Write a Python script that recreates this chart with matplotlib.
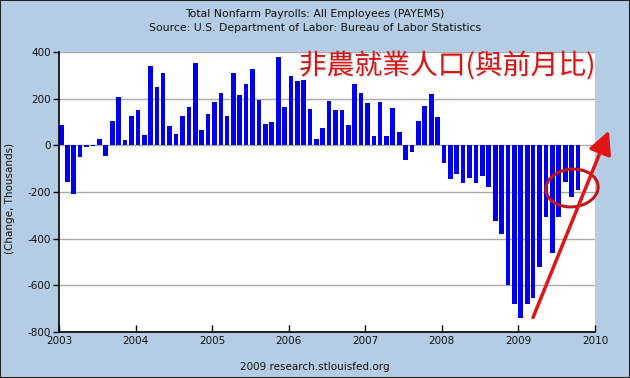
import matplotlib
matplotlib.use("Agg")
import matplotlib.pyplot as plt
import matplotlib.dates as mdates
import matplotlib.patheffects as pe
from matplotlib.patches import Ellipse, Rectangle, FancyArrowPatch
import pandas as pd

# monthly change in nonfarm payrolls, thousands (Jan 2003 - Oct 2009)
changes = [87, -159, -210, -48, -6, -2, 27, -44, 103, 206, 23, 125,
           150, 44, 339, 252, 312, 82, 48, 125, 163, 354, 65, 133,
           186, 223, 125, 312, 214, 262, 325, 193, 91, 101, 380, 163,
           296, 274, 282, 155, 27, 74, 189, 150, 150, 87, 262, 223,
           180, 40, 184, 40, 159, 57, -65, -27, 103, 167, 220, 120,
           -76, -143, -121, -161, -140, -161, -131, -178, -323, -382, -599, -681,
           -742, -681, -653, -520, -306, -463, -306, -157, -221, -192]
months = pd.date_range("2003-01-01", periods=len(changes), freq="MS")
year_ticks = list(range(2003, 2011))
y_ticks = [400, 200, 0, -200, -400, -600, -800]

title = "Total Nonfarm Payrolls: All Employees (PAYEMS)\nSource: U.S. Department of Labor: Bureau of Labor Statistics"
y_label = "(Change, Thousands)"
footer = "2009 research.stlouisfed.org"
note = "非農就業人口(與前月比)"

bg = "#B4CDE4"
plt.rcParams["font.family"] = ["DejaVu Sans"]
plt.rcParams["font.size"] = 7.5
plt.rcParams["text.color"] = "#111111"

fig = plt.figure(figsize=(6.3, 3.78), dpi=100, facecolor=bg)
ax = fig.add_axes([59 / 630, 1 - 332 / 378, 536 / 630, 280 / 378])
ax.set_facecolor("white")

ax.bar(months, changes, width=22, align="edge", color="#0000EE", zorder=3)

ax.set_ylim(-800, 400)
ax.set_yticks(y_ticks)
ax.set_yticklabels([str(v) for v in y_ticks])
ax.yaxis.grid(True, color="#AAAAAA", linewidth=1, zorder=1)
ax.set_xlim(mdates.date2num(pd.Timestamp("2003-01-01")), mdates.date2num(pd.Timestamp("2010-01-01")))
ax.set_xticks([mdates.date2num(pd.Timestamp(f"{y}-01-01")) for y in year_ticks])
ax.set_xticklabels([str(y) for y in year_ticks])
ax.tick_params(axis="x", direction="in", length=5, width=1, pad=3, labelcolor="#111111")
ax.tick_params(axis="y", direction="out", length=4, width=1, pad=2, labelcolor="#111111")
for s in ["top", "right"]:
    ax.spines[s].set_visible(False)
for s in ["left", "bottom"]:
    ax.spines[s].set_linewidth(1.2)
    ax.spines[s].set_zorder(4)

fig.text(0.5, 1 - 21 / 378, title, ha="center", va="center", fontsize=7.8, linespacing=1.55)
fig.text(10 / 630, 1 - 198 / 378, y_label, rotation=90, ha="center", va="center")
fig.text(0.5, 1 - 367 / 378, footer, ha="center", va="center")

# red annotations drawn on top
fig.text(447 / 630, 1 - 66 / 378, note, ha="center", va="center", fontsize=20,
         color="#D41414", family=["Noto Sans CJK TC", "DejaVu Sans"], fontweight="light",
         path_effects=[pe.withSimplePatchShadow(offset=(1, -1), shadow_rgbFace="#BBBBBB", alpha=0.35)])
fig.add_artist(Ellipse((572 / 630, 1 - 188 / 378), 52 / 630, 38 / 378, angle=-8,
                       transform=fig.transFigure, fill=False, edgecolor="#C01818", linewidth=2.2))
fig.add_artist(FancyArrowPatch((532 / 630, 1 - 320 / 378), (610 / 630, 1 - 128 / 378),
                               transform=fig.transFigure, arrowstyle="-|>,head_length=7,head_width=3.5",
                               color="#E01515", linewidth=2.5, mutation_scale=2))

fig.add_artist(Rectangle((0, 0), 1, 1, transform=fig.transFigure, fill=False,
                         edgecolor="#222222", linewidth=1.5))

fig.savefig("out.png", dpi=100, facecolor=bg)
